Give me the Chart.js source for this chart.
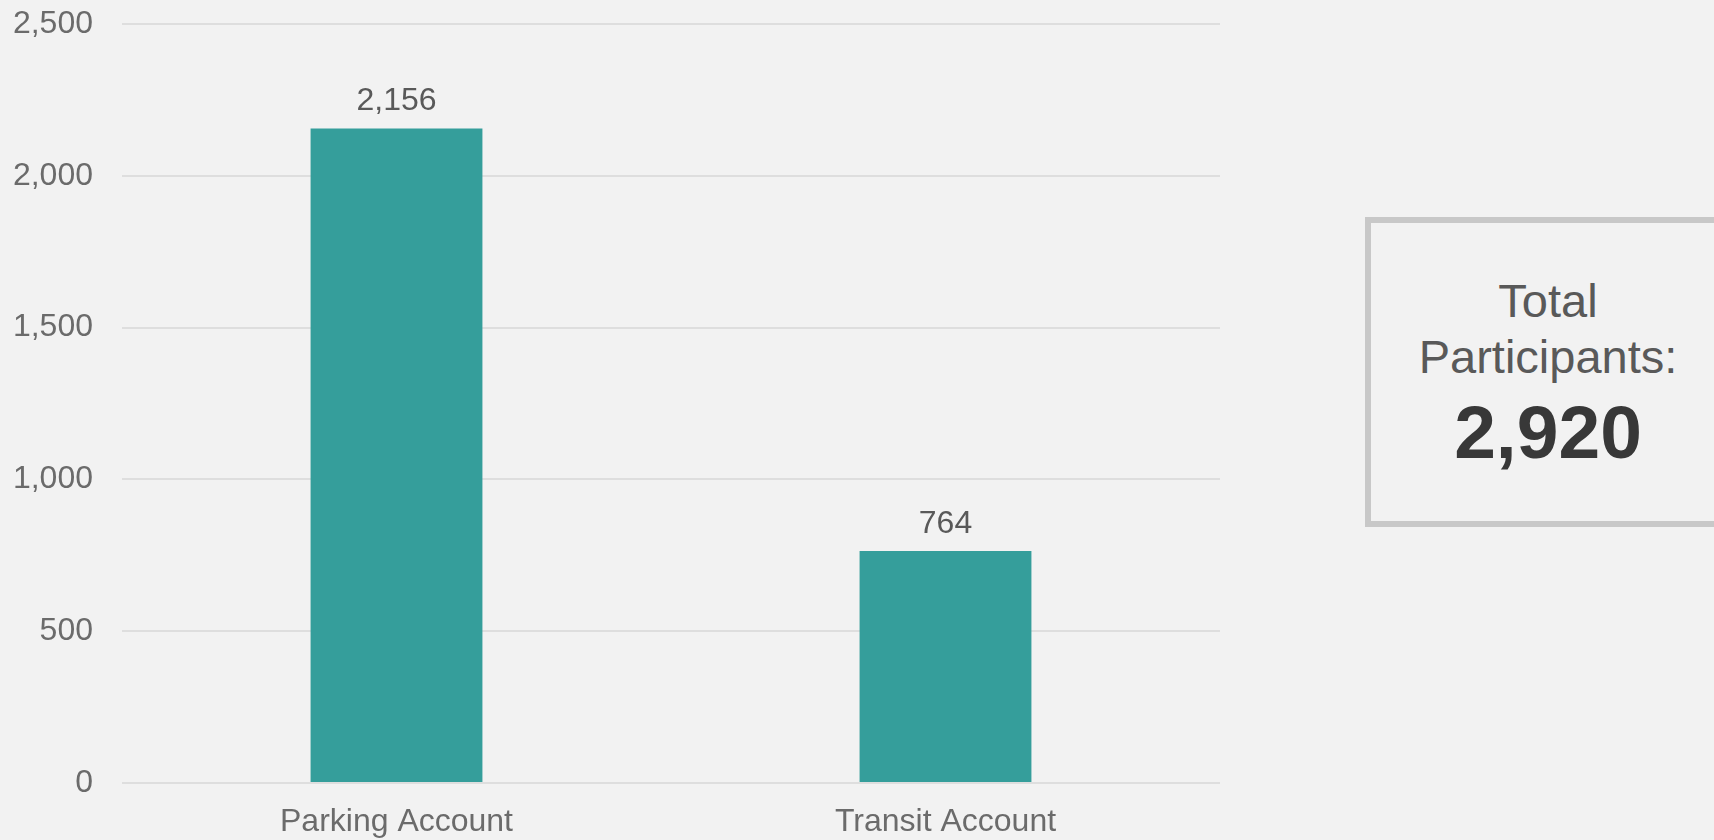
<!DOCTYPE html>
<html>
<head>
<meta charset="utf-8">
<script src="https://cdn.jsdelivr.net/npm/chart.js@4/dist/chart.umd.min.js"></script>
<style>
  html, body { margin: 0; padding: 0; background: #f2f2f2; overflow: hidden; width: 1714px; height: 840px; }
  #wrap { position: absolute; left: 0; top: 0; width: 1240px; height: 840px; }
  #total {
    position: absolute; left: 1365px; top: 217px; width: 366px; height: 310px;
    box-sizing: border-box; border: 6px solid #c8c8c8; padding-top: 50px;
    text-align: center; font-family: "Liberation Sans", Arial, sans-serif; color: #595959;
  }
  #total .lbl { font-size: 47px; line-height: 56px; }
  #total .num { font-size: 75px; line-height: 80px; font-weight: bold; color: #383838; margin-top: 7px; }
</style>
</head>
<body>
<div id="wrap"><canvas id="c"></canvas></div>
<div id="total"><div class="lbl">Total</div><div class="lbl">Participants:</div><div class="num" id="totalNum"></div></div>
<script>
const categories = ["Parking Account", "Transit Account"];
const participants = [2156, 764];
const yTickMin = 0;
const yTickMax = 2500;
const yTickStep = 500;
const totalLabel = "Total Participants:";

const fmt = v => v.toLocaleString("en-US");
document.getElementById("totalNum").textContent = fmt(participants.reduce((a, b) => a + b, 0));

const FONT = '"Liberation Sans", Arial, sans-serif';

const valueLabels = {
  id: "valueLabels",
  afterDatasetsDraw(chart) {
    const ctx = chart.ctx;
    const meta = chart.getDatasetMeta(0);
    ctx.save();
    ctx.font = "32px " + FONT;
    ctx.fillStyle = "#595959";
    ctx.textAlign = "center";
    ctx.textBaseline = "alphabetic";
    meta.data.forEach((bar, i) => {
      ctx.fillText(fmt(chart.data.datasets[0].data[i]), bar.x, bar.y - 18);
    });
    ctx.restore();
  }
};

new Chart(document.getElementById("c"), {
  type: "bar",
  data: {
    labels: categories,
    datasets: [{
      label: totalLabel,
      data: participants,
      backgroundColor: "#359e9b",
      borderWidth: 0,
      categoryPercentage: 1,
      barPercentage: 0.313
    }]
  },
  options: {
    responsive: true,
    maintainAspectRatio: false,
    animation: false,
    layout: { padding: { left: 13, right: 20, top: 24, bottom: 0 } },
    plugins: { legend: { display: false }, tooltip: { enabled: false } },
    scales: {
      x: {
        grid: { display: false, drawTicks: false },
        border: { display: false },
        ticks: { color: "#6b6b6b", font: { family: FONT, size: 32 }, padding: 20 },
        afterFit(s) { s.height = 57; s.paddingLeft = 0; s.paddingRight = 0; }
      },
      y: {
        min: yTickMin, max: yTickMax,
        grid: { color: "#dedede", lineWidth: 2, drawTicks: false },
        border: { display: false },
        ticks: { stepSize: yTickStep, color: "#6b6b6b", font: { family: FONT, size: 32 }, padding: 29,
                 callback: v => fmt(v) },
        afterFit(s) { s.width = 109; s.paddingTop = 0; s.paddingBottom = 0; }
      }
    }
  },
  plugins: [valueLabels]
});
</script>
</body>
</html>
